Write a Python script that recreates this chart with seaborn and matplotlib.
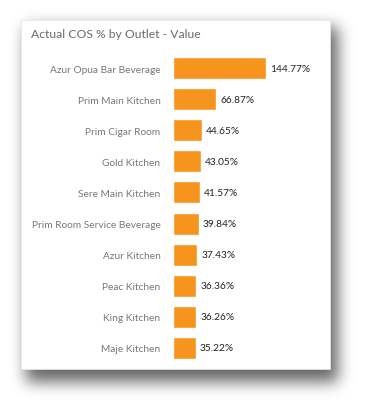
import matplotlib
matplotlib.use("Agg")
import matplotlib.pyplot as plt
import seaborn as sns
import pandas as pd
import numpy as np
from matplotlib.patches import Rectangle

outlets = ["Azur Opua Bar Beverage", "Prim Main Kitchen", "Prim Cigar Room",
           "Gold Kitchen", "Sere Main Kitchen", "Prim Room Service Beverage",
           "Azur Kitchen", "Peac Kitchen", "King Kitchen", "Maje Kitchen"]
values = [144.77, 66.87, 44.65, 43.05, 41.57, 39.84, 37.43, 36.36, 36.26, 35.22]
title = "Actual COS % by Outlet - Value"

df = pd.DataFrame({"Outlet": outlets, "Value": values})

sns.set_theme(style="white")
plt.rcParams['font.family'] = ['Lato', 'DejaVu Sans']

W, H = 372, 406
fig = plt.figure(figsize=(W / 100, H / 100), dpi=100)
fig.patch.set_facecolor("white")

def px_rect(x0, y0, x1, y1, **kw):
    return Rectangle((x0 / W, 1 - y1 / H), (x1 - x0) / W, (y1 - y0) / H,
                     transform=fig.transFigure, **kw)

# blurred drop shadow (background decoration)
card = (21, 21, 330, 370)
mask = np.zeros((H, W))
mask[28:383, 26:338] = 1.0
sig = 7.5
k = np.arange(-24, 25)
g = np.exp(-k ** 2 / (2 * sig ** 2)); g /= g.sum()
mask = np.apply_along_axis(lambda r: np.convolve(r, g, mode="same"), 1, mask)
mask = np.apply_along_axis(lambda c: np.convolve(c, g, mode="same"), 0, mask)
rgba = np.zeros((H, W, 4))
rgba[..., 3] = mask * 0.6
fig.figimage(rgba, xo=0, yo=0, origin="upper", zorder=0)
fig.patches.append(px_rect(*card, facecolor="white", edgecolor="#e6e6e6", linewidth=0.5, zorder=1))

# axes
ax_left, ax_right = 173, 322
ax_top, ax_bot = 53.5, 364.5
ax = fig.add_axes([ax_left / W, 1 - ax_bot / H, (ax_right - ax_left) / W, (ax_bot - ax_top) / H])
ax.set_zorder(2)
ax.patch.set_alpha(0)

sns.barplot(data=df, x="Value", y="Outlet", color="#F7941D", saturation=1,
            width=0.71, ax=ax)
ax.set_xlim(0, (ax_right - ax_left) / 0.642)
for c in ax.containers:
    ax.bar_label(c, labels=[f"{v:.2f}%" for v in values], padding=3,
                 fontsize=7.3, color="#222222")
ax.set_xlabel("")
ax.set_ylabel("")
ax.set_xticks([])
ax.tick_params(axis="y", length=0, pad=9, labelsize=7.3, labelcolor="#777777")
for s in ax.spines.values():
    s.set_visible(False)

fig.text(31 / W, 1 - 34 / H, title, fontsize=8.7, color="#6b6b6b", va="center", ha="left", zorder=3)

fig.savefig("out.png", dpi=100)
